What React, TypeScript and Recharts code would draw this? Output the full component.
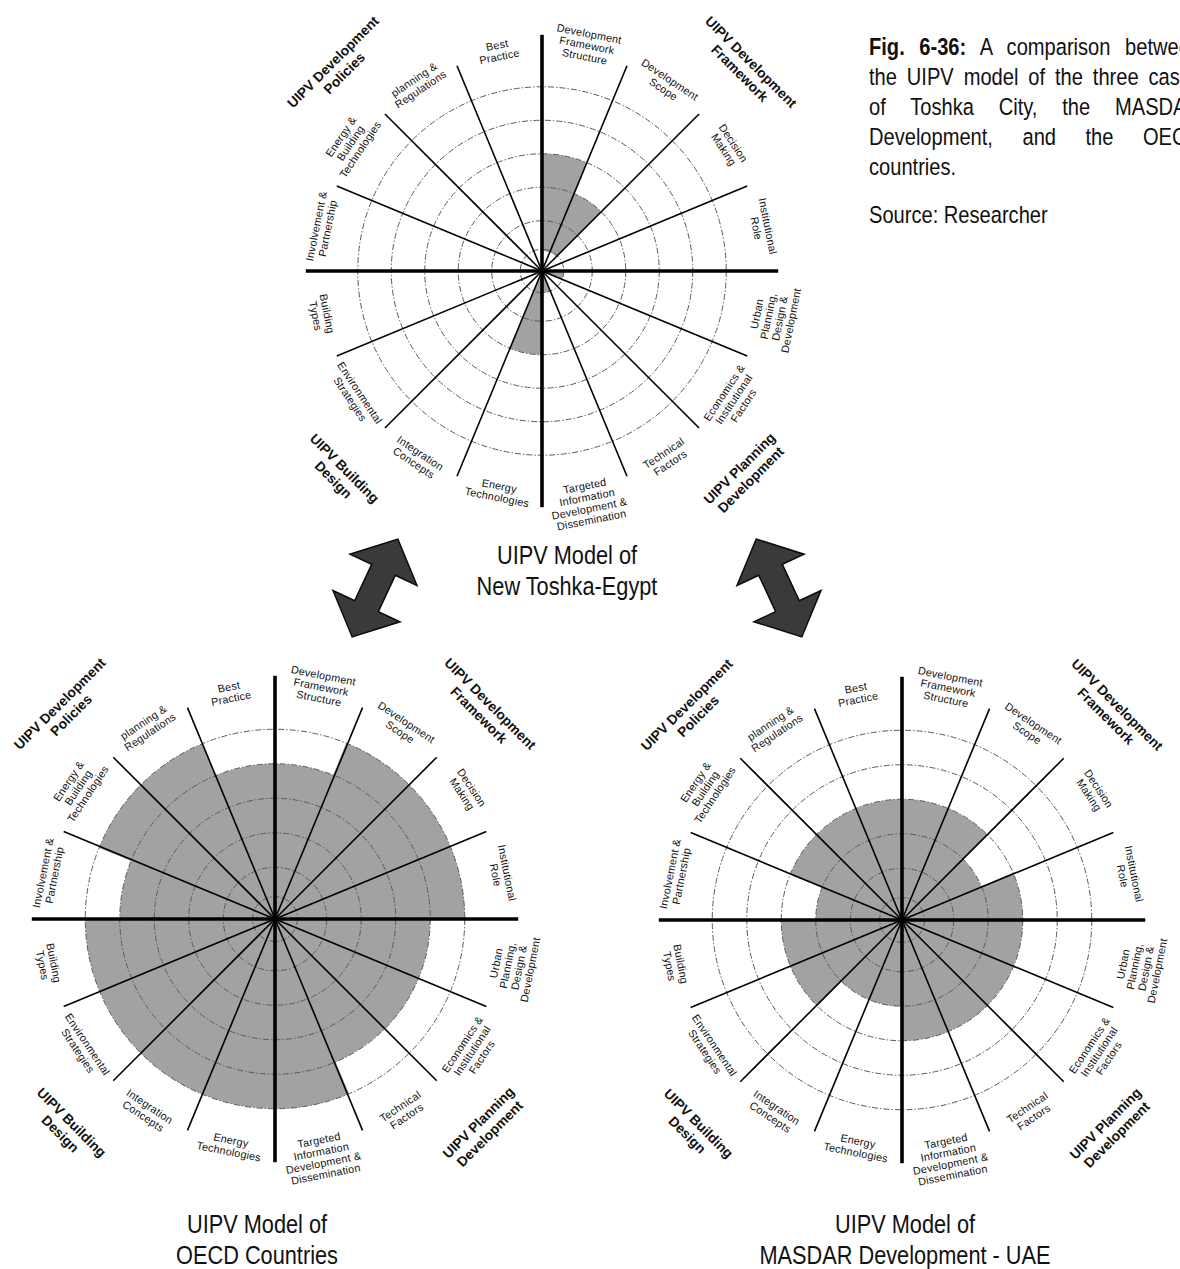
import React from 'react';
import { RadialBarChart, RadialBar, PolarAngleAxis, PolarRadiusAxis } from 'recharts';

// ---- categories (clockwise from 12 o'clock) ----
const categories = [
  'Development Framework Structure',
  'Development Scope',
  'Decision Making',
  'Institutional Role',
  'Urban Planning, Design & Development',
  'Economics & Institutional Factors',
  'Technical Factors',
  'Targeted Information Development & Dissemination',
  'Energy Technologies',
  'Integration Concepts',
  'Environmental Strategies',
  'Building Types',
  'Involvement & Partnership',
  'Energy & Building Technologies',
  'planning & Regulations',
  'Best Practice',
];

const categoryLines = [
  ['Development', 'Framework', 'Structure'],
  ['Development', 'Scope'],
  ['Decision', 'Making'],
  ['Institutional', 'Role'],
  ['Urban', 'Planning,', 'Design &', 'Development'],
  ['Economics &', 'Institutional', 'Factors'],
  ['Technical', 'Factors'],
  ['Targeted', 'Information', 'Development &', 'Dissemination'],
  ['Energy', 'Technologies'],
  ['Integration', 'Concepts'],
  ['Environmental', 'Strategies'],
  ['Building', 'Types'],
  ['Involvement &', 'Partnership'],
  ['Energy &', 'Building', 'Technologies'],
  ['planning &', 'Regulations'],
  ['Best', 'Practice'],
];

const groupLines = [
  ['UIPV Development', 'Framework'],
  ['UIPV Planning', 'Development'],
  ['UIPV Building', 'Design'],
  ['UIPV Development', 'Policies'],
];

// radius-axis ring positions (dashed circles)
const ringTicks = [0.65, 1.5, 2.5, 3.5, 4.5, 5.5];
const radiusDomain = [0, 5.5];

// ---- series values (radius-axis units) ----
const toshkaInner = [0.6, 0.6, 0, 0, 0, 0, 0, 0, 0, 0, 0, 0, 0, 0, 0, 0];
const toshkaOuter = [3.5, 2.5, 0, 0, 0.65, 0, 0, 0.65, 2.5, 0, 0, 0, 0, 0, 0, 0];
const oecdOuter = [4.5, 5.5, 5.5, 5.5, 4.5, 4.5, 4.5, 5.5, 5.5, 5.5, 5.5, 5.5, 4.5, 5.5, 5.5, 4.5];
const masdarOuter = [3.5, 3.5, 2.5, 3.5, 3.5, 3.5, 3.5, 3.5, 2.5, 2.5, 3.5, 3.5, 2.5, 3.5, 3.5, 3.5];

const captionToshka = ['UIPV Model of', 'New Toshka-Egypt'];
const captionOecd = ['UIPV Model of', 'OECD Countries'];
const captionMasdar = ['UIPV Model of', 'MASDAR Development - UAE'];

const figLines = [
  'A comparison between',
  'the UIPV model of the three cases',
  'of Toshka City, the MASDAR',
  'Development, and the OECD',
];

const SANS = "'Liberation Sans', Arial, Helvetica, sans-serif";
const NARROW_X = 0.82;

const SIZE = 700;
const BAND = 360 / categories.length;

function pt(cx: number, cy: number, r: number, theta: number) {
  const rad = (theta * Math.PI) / 180;
  return { x: cx + r * Math.cos(rad), y: cy - r * Math.sin(rad) };
}

function textRot(phi: number) {
  const p = ((phi % 360) + 360) % 360;
  if (p > 90 && p < 270) return p - 180;
  if (p >= 270) return p - 360;
  return p;
}

function makeAngleTick(R: number) {
  return (props: any) => {
    const { payload, index } = props;
    const cx = typeof props.cx === 'number' ? props.cx : SIZE / 2;
    const cy = typeof props.cy === 'number' ? props.cy : SIZE / 2;
    // the bar of this category spans [coordinate, coordinate + BAND]
    const a0 = payload.coordinate;
    const startA = a0 + BAND;
    const centerA = a0 + BAND / 2;
    const thick = index % 4 === 0;
    const spokeLen = thick ? 1.175 * R : 1.105 * R;
    const end = pt(cx, cy, spokeLen, startA);
    const lines = categoryLines[index] || [String(payload.value)];
    const LH = 11.6;
    const rc = 1.06 * R + (lines.length * LH) / 2;
    const c = pt(cx, cy, rc, centerA);
    const rot = textRot(90 - centerA);
    let group = null;
    if (index % 4 === 2) {
      const g = (index - 2) / 4;
      const gl = groupLines[g];
      const GLH = 16;
      const gc = pt(cx, cy, 1.43 * R, startA);
      const grot = textRot(90 - startA);
      group = (
        <g transform={`translate(${gc.x},${gc.y}) rotate(${grot})`}>
          {gl.map((l, j) => (
            <text key={j} x={0} y={(j - (gl.length - 1) / 2) * GLH} textAnchor="middle" dominantBaseline="central"
              fontFamily={SANS} fontWeight="bold" fontSize={13.8} fill="#111">{l}</text>
          ))}
        </g>
      );
    }
    return (
      <g>
        <line x1={cx} y1={cy} x2={end.x} y2={end.y} stroke="#000" strokeWidth={thick ? 3.6 : 1.6} />
        <g transform={`translate(${c.x},${c.y}) rotate(${rot})`}>
          {lines.map((l, j) => (
            <text key={j} x={0} y={(j - (lines.length - 1) / 2) * LH} textAnchor="middle" dominantBaseline="central"
              fontFamily={SANS} fontSize={10.8} letterSpacing={0.2} fill="#111">{l}</text>
          ))}
        </g>
        {group}
      </g>
    );
  };
}

const RingTick = (props: any) => {
  const { x, y, payload } = props;
  const r = payload.coordinate;
  const cx = typeof props.cx === 'number' ? props.cx : x - r;
  const cy = typeof props.cy === 'number' ? props.cy : y;
  return <circle cx={cx} cy={cy} r={r} fill="none" stroke="#5a5a5a" strokeWidth={1} strokeDasharray="6 2 1.5 2" />;
};

function Rose({ inner, outer, R, ccx, ccy }: { inner: number[] | null; outer: number[]; R: number; ccx: number; ccy: number }) {
  const data = categories.map((name, i) => ({ name, value: [inner ? inner[i] : 0, outer[i]] }));
  return (
    <div style={{ position: 'absolute', left: ccx - SIZE / 2, top: ccy - SIZE / 2, width: SIZE, height: SIZE }}>
      <RadialBarChart
        width={SIZE}
        height={SIZE}
        data={data}
        layout="centric"
        cx="50%"
        cy="50%"
        innerRadius={0}
        outerRadius={R}
        startAngle={90 - BAND}
        endAngle={-270 - BAND}
        barCategoryGap={0}
        barGap={0}
        margin={{ top: 0, right: 0, bottom: 0, left: 0 }}
      >
        <RadialBar dataKey="value" fill="#a2a2a2" isAnimationActive={false} />
        <PolarRadiusAxis type="number" domain={radiusDomain} ticks={ringTicks} angle={0} axisLine={false} tickLine={false} tick={RingTick} />
        <PolarAngleAxis type="category" dataKey="name" axisLine={false} tickLine={false} tick={makeAngleTick(R)} />
      </RadialBarChart>
    </div>
  );
}

function Caption({ lines, x, y }: { lines: string[]; x: number; y: number }) {
  const w = 500;
  return (
    <div style={{
      position: 'absolute', left: x - w / 2, top: y, width: w, textAlign: 'center', fontFamily: SANS,
      fontSize: 26.5, lineHeight: '31px', color: '#111', transform: `scaleX(${NARROW_X})`, transformOrigin: '50% 0',
    }}>
      {lines.map((l, i) => <div key={i}>{l}</div>)}
    </div>
  );
}

function Arrow({ x, y, rot }: { x: number; y: number; rot: number }) {
  const pts = [
    [0, -54], [37, -20], [13, -20], [13, 20], [37, 20], [0, 54], [-37, 20], [-13, 20], [-13, -20], [-37, -20],
  ].map((p) => p.join(',')).join(' ');
  return (
    <g transform={`translate(${x},${y}) rotate(${rot})`}>
      <polygon points={pts} fill="#3a3a3a" stroke="#0a0a0a" strokeWidth={1.5} strokeLinejoin="miter" />
    </g>
  );
}

export default function App() {
  const W = 332 / NARROW_X;
  return (
    <div style={{ position: 'absolute', left: 0, top: 0, width: 1180, height: 1269, overflow: 'hidden', background: '#fff' }}>
      <Rose inner={toshkaInner} outer={toshkaOuter} R={201} ccx={542} ccy={271} />
      <Rose inner={null} outer={oecdOuter} R={207} ccx={275} ccy={919} />
      <Rose inner={null} outer={masdarOuter} R={207} ccx={902} ccy={920} />
      <svg style={{ position: 'absolute', left: 0, top: 0 }} width={1180} height={1269}>
        <Arrow x={375} y={588} rot={25} />
        <Arrow x={779} y={588} rot={-25} />
      </svg>
      <Caption lines={captionToshka} x={567} y={540} />
      <Caption lines={captionOecd} x={257} y={1209} />
      <Caption lines={captionMasdar} x={905} y={1209} />
      <div style={{
        position: 'absolute', left: 869, top: 32, width: W, fontFamily: SANS, fontSize: 24.5, lineHeight: '30px', color: '#111',
        transform: `scaleX(${NARROW_X})`, transformOrigin: '0 0',
      }}>
        <div style={{ textAlign: 'justify', textAlignLast: 'justify' as any }}>
          <b>Fig. 6-36:</b> {figLines[0]}
        </div>
        {figLines.slice(1).map((l, i) => (
          <div key={i} style={{ textAlign: 'justify', textAlignLast: 'justify' as any }}>{l}</div>
        ))}
        <div>countries.</div>
        <div style={{ marginTop: 18 }}>Source: Researcher</div>
      </div>
    </div>
  );
}
